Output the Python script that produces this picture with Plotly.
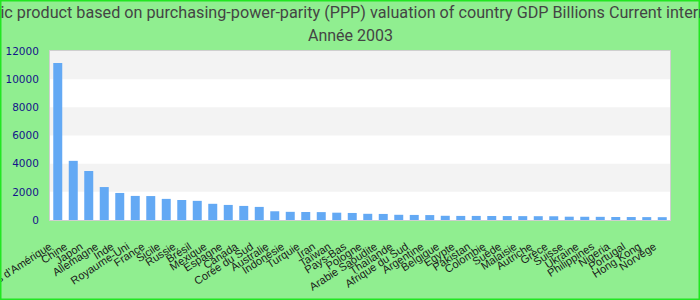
import plotly.graph_objects as go

categories = ["Etats-Unis d'Amérique", "Chine", "Japon", "Allemagne", "Inde", "Royaume-Uni",
              "France", "Sicile", "Russie", "Brésil", "Mexique", "Espagne", "Canada",
              "Corée du Sud", "Australie", "Indonésie", "Turquie", "Iran", "Taïwan",
              "Pays-Bas", "Pologne", "Arabie Saoudite", "Thaïlande", "Afrique du Sud",
              "Argentine", "Belgique", "Egypte", "Pakistan", "Colombie", "Suède",
              "Malaisie", "Autriche", "Grèce", "Suisse", "Ukraine", "Philippines",
              "Nigeria", "Portugal", "Hong Kong", "Norvège"]
values = [11140, 4200, 3480, 2340, 1920, 1710, 1700, 1500, 1420, 1360, 1150, 1070, 1000,
          930, 620, 580, 570, 560, 520, 500, 440, 430, 370, 360, 350, 300, 290, 290, 285,
          280, 275, 270, 265, 235, 230, 225, 215, 210, 205, 200]
y_ticks = [0, 2000, 4000, 6000, 8000, 10000, 12000]

title_line1 = ("Gross domestic product based on purchasing-power-parity (PPP) valuation "
               "of country GDP Billions Current international dollar")
title_line2 = "Année 2003"

W, H = 700, 300
L, R, T, B = 50, 30, 51, 80
pw, ph = W - L - R, H - T - B

def px_x(px):
    return (px - L) / pw

def px_y(py):
    return (H - B - py) / ph

fig = go.Figure(go.Bar(x=categories, y=values, marker=dict(color="#63A9F4", line=dict(width=0)),
                       width=0.58))

shapes = []
for i in range(len(y_ticks) - 1):
    if i % 2 == 1:
        shapes.append(dict(type="rect", xref="paper", yref="y", x0=0, x1=1,
                           y0=y_ticks[i], y1=y_ticks[i + 1], fillcolor="#f3f3f3",
                           line=dict(width=0), layer="below"))
shapes.append(dict(type="rect", xref="paper", yref="paper",
                   x0=px_x(0.75), x1=px_x(699.25), y0=px_y(0.75), y1=px_y(299.25),
                   line=dict(color="#22e622", width=1.5), fillcolor="rgba(0,0,0,0)",
                   layer="above"))

fig.update_layout(
    width=W, height=H,
    margin=dict(l=L, r=R, t=T, b=B, autoexpand=False),
    paper_bgcolor="#90EE90",
    plot_bgcolor="#ffffff",
    showlegend=False,
    title=dict(text=title_line1, x=0.5, xref="container", xanchor="center",
               y=1 - 12 / H, yref="container", yanchor="middle",
               font=dict(family="Roboto", size=16.2, color="#444444")),
    annotations=[dict(text=title_line2, xref="paper", yref="paper",
                      x=px_x(350), y=px_y(35.5), xanchor="center", yanchor="middle",
                      showarrow=False, font=dict(family="Roboto", size=16, color="#444444"))],
    shapes=shapes,
    xaxis=dict(tickangle=-33, tickfont=dict(family="Liberation Sans", size=11, color="#1a1a1a"),
               showgrid=False, showline=True, linecolor="#cfcfcf", linewidth=1, mirror=True,
               automargin=False, ticks="", ticklabelstandoff=15, ticklabelshift=-8),
    yaxis=dict(range=[0, 12000], tickvals=y_ticks, tickformat="d", showgrid=False, zeroline=False,
               tickfont=dict(family="DejaVu Sans", size=10.5, color="#14148a"),
               showline=True, linecolor="#cfcfcf", linewidth=1, mirror=True,
               ticks="outside", ticklen=8, tickcolor="rgba(0,0,0,0)", automargin=False),
    bargap=0.42,
)

fig.write_html("out.html")
